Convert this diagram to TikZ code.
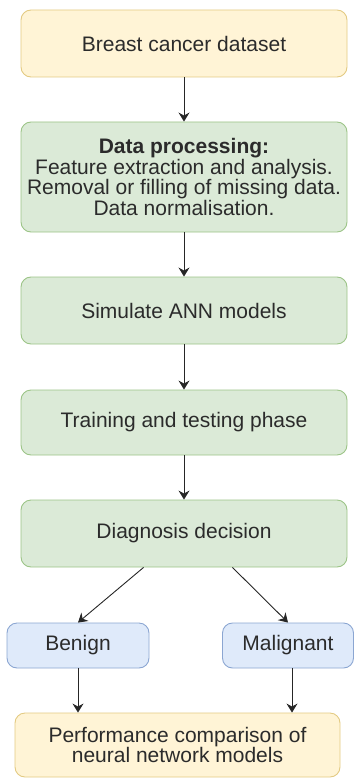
\documentclass[tikz,border=0pt]{standalone}
\usepackage{fontspec}
\setmainfont{Liberation Sans}
\usepackage{xcolor}
\usepackage{tikz}
\usetikzlibrary{arrows.meta, positioning}

\definecolor{jaune}{HTML}{FFF4D6}
\definecolor{jauneBord}{HTML}{E3CA82}
\definecolor{vert}{HTML}{DBEAD7}
\definecolor{vertBord}{HTML}{9CC487}
\definecolor{bleu}{HTML}{DFEAFA}
\definecolor{bleuBord}{HTML}{8BA6D2}
\definecolor{texte}{HTML}{2B2B2B}

\begin{document}
\begin{tikzpicture}[x=1pt, y=-1pt,
                boite/.style={draw, rounded corners=10pt, line width=0.9pt, align=center,
                        text=texte, inner sep=2pt, font=\fontsize{21}{20.5}\selectfont},
                etape/.style={boite, fill=vert, draw=vertBord, minimum width=326pt},
                fleche/.style={-{Stealth[length=9pt, width=11pt, inset=3pt]}, line width=0.9pt, draw=black!85}]
                \useasboundingbox (0,0) rectangle (354,778);

                % Boites principales
                \node[boite, fill=jaune, draw=jauneBord, minimum width=326pt, minimum height=67pt]
                        (donnees) at (184,43.5) {Breast cancer dataset};
                \node[etape, minimum height=110pt] (traitement) at (184,177)
                        {\textbf{Data processing:}\\ Feature extraction and analysis.\\
                        Removal or filling of missing data.\\ Data normalisation.};
                \node[etape, minimum height=67pt] (simulation) at (184,310.5) {Simulate ANN models};
                \node[etape, minimum height=65pt] (phase) at (184,422.5) {Training and testing phase};
                \node[etape, minimum height=67pt] (diagnostic) at (184,533.5) {Diagnosis decision};

                % Classes
                \node[boite, fill=bleu, draw=bleuBord, minimum width=142pt, minimum height=45pt]
                        (benin) at (78,645.5) {Benign};
                \node[boite, fill=bleu, draw=bleuBord, minimum width=131pt, minimum height=45pt]
                        (malin) at (288,645.5) {Malignant};

                % Comparaison finale
                \node[boite, fill=jaune, draw=jauneBord, minimum width=325pt, minimum height=64pt]
                        (comparaison) at (177.5,745) {Performance comparison of\\ neural network models};

                % Fleches
                \draw[fleche] (donnees) -- (traitement);
                \draw[fleche] (traitement) -- (simulation);
                \draw[fleche] (simulation) -- (phase);
                \draw[fleche] (phase) -- (diagnostic);
                \draw[fleche] (diagnostic.220.7) -- (benin.north);
                \draw[fleche] (diagnostic.325.1) -- (malin.north);
                \draw[fleche] (benin) -- (benin |- comparaison.north);
                \draw[fleche] ([xshift=4pt]malin.south) -- ([xshift=4pt]malin.south |- comparaison.north);
\end{tikzpicture}
\end{document}
